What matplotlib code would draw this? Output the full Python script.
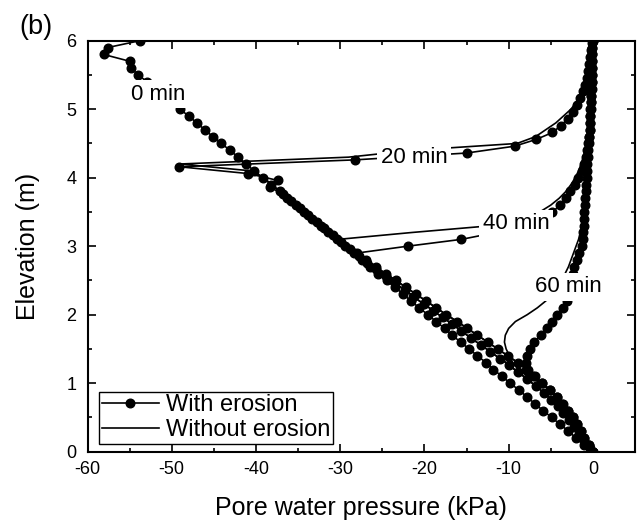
import matplotlib
matplotlib.use("Agg")
import matplotlib.pyplot as plt
from matplotlib.lines import Line2D
from matplotlib.ticker import MultipleLocator

plt.rcParams['font.family'] = ['Liberation Sans', 'DejaVu Sans']
plt.rcParams['axes.unicode_minus'] = False

# node elevations (m)
E = [0.0, 0.1, 0.2, 0.3, 0.4, 0.5, 0.6, 0.7, 0.8, 0.9,
     1.0, 1.1, 1.2, 1.3, 1.4, 1.5, 1.6, 1.7, 1.8, 1.9,
     2.0, 2.1, 2.2, 2.3, 2.4, 2.5, 2.6, 2.7, 2.8, 2.9,
     3.0, 3.1, 3.2, 3.3, 3.4, 3.5, 3.6, 3.7, 3.8, 3.9,
     4.0, 4.1, 4.2, 4.3, 4.4, 4.5, 4.6, 4.7, 4.8, 4.9,
     5.0, 5.1, 5.2, 5.3, 5.4, 5.5, 5.6, 5.7, 5.8, 5.9, 6.0]

# node elevations of the eroded profile at 20 min (m)
E20_ero = [0.0, 0.06, 0.16, 0.26, 0.36, 0.46, 0.56, 0.66, 0.76, 0.86,
           0.96, 1.06, 1.16, 1.26, 1.36, 1.46, 1.56, 1.66, 1.76, 1.86,
           1.96, 2.06, 2.16, 2.26, 2.36, 2.46, 2.56, 2.66, 2.76, 2.86,
           2.96, 3.06, 3.16, 3.26, 3.36, 3.46, 3.56, 3.66, 3.76, 3.86,
           3.96, 4.06, 4.16, 4.26, 4.36, 4.46, 4.56, 4.66, 4.76, 4.86,
           4.96, 5.06, 5.16, 5.26, 5.36, 5.46, 5.56, 5.66, 5.76, 5.86, 5.96]

# pore water pressure (kPa)
u0_ero = [0.0, -1.0, -2.0, -2.9, -3.9, -4.9, -5.9, -6.9, -7.8, -8.8,
          -9.8, -10.8, -11.8, -12.7, -13.7, -14.7, -15.7, -16.7, -17.6, -18.6,
          -19.6, -20.6, -21.6, -22.5, -23.5, -24.5, -25.5, -26.5, -27.4, -28.4,
          -29.4, -30.4, -31.4, -32.3, -33.3, -34.3, -35.3, -36.3, -37.2, -38.2,
          -39.2, -40.2, -41.2, -42.1, -43.1, -44.1, -45.1, -46.1, -47.0, -48.0,
          -49.0, -50.0, -51.0, -51.9, -52.9, -54.0, -54.8, -55.0, -58.1, -57.6, -53.8]

u20_ero = [0.0, -0.4, -1.1, -1.7, -2.2, -2.8, -3.5, -4.2, -5.0, -5.8,
           -6.8, -7.8, -8.9, -9.9, -11.0, -12.2, -13.3, -14.5, -15.6, -16.7,
           -17.8, -19.0, -20.1, -21.3, -22.3, -23.5, -24.6, -25.7, -26.8, -27.8,
           -28.8, -29.9, -30.9, -31.9, -32.8, -33.8, -34.8, -35.8, -36.8, -38.3,
           -37.4, -40.9, -49.1, -28.3, -15.0, -9.3, -6.7, -4.8, -3.8, -3.0,
           -2.4, -1.9, -1.5, -1.2, -0.95, -0.75, -0.6, -0.45, -0.35, -0.25, -0.15]

u20_noero = [0.0, -0.7, -1.3, -1.8, -2.4, -3.1, -3.8, -4.5, -5.3, -6.2,
             -7.2, -8.2, -9.3, -10.3, -11.5, -12.6, -13.8, -14.9, -16.0, -17.1,
             -18.3, -19.4, -20.6, -21.6, -22.8, -23.9, -25.0, -26.1, -27.1, -28.2,
             -29.2, -30.3, -31.3, -32.3, -33.2, -34.2, -35.2, -36.2, -37.1, -38.1,
             -39.1, -40.6, -49.0, -29.0, -21.4, -9.0, -6.8, -5.6, -4.4, -3.5,
             -2.6, -2.0, -1.6, -1.3, -1.0, -0.8, -0.6, -0.45, -0.35, -0.25, -0.15]

u40_ero = [0.0, -0.5, -1.0, -1.4, -1.9, -2.4, -3.0, -3.7, -4.3, -5.1,
           -6.0, -6.9, -7.9, -8.9, -10.1, -11.3, -12.5, -13.7, -14.9, -16.1,
           -17.4, -18.6, -19.8, -21.0, -22.2, -23.4, -24.6, -25.8, -26.9, -28.0,
           -22.0, -15.6, -11.5, -8.2, -6.5, -4.8, -3.9, -3.2, -2.7, -2.1,
           -1.75, -1.35, -1.0, -0.8, -0.65, -0.55, -0.45, -0.4, -0.35, -0.3,
           -0.25, -0.2, -0.2, -0.15, -0.15, -0.1, -0.1, -0.1, -0.05, -0.05, 0.0]

u40_noero = [0.0, -0.5, -1.0, -1.4, -1.9, -2.4, -3.0, -3.7, -4.3, -5.1,
             -6.0, -6.9, -7.9, -8.9, -10.1, -11.3, -12.5, -13.7, -14.9, -16.1,
             -17.4, -18.6, -19.8, -21.0, -22.2, -23.4, -24.6, -25.8, -26.9, -28.0,
             -29.1, -30.2, -21.5, -12.0, -8.0, -6.3, -5.0, -4.0, -3.2, -2.6,
             -2.1, -1.7, -1.4, -1.15, -0.95, -0.8, -0.65, -0.55, -0.45, -0.4,
             -0.35, -0.3, -0.25, -0.2, -0.2, -0.15, -0.15, -0.1, -0.1, -0.05, 0.0]

u60_ero = [0.0, -0.5, -1.0, -1.4, -1.9, -2.4, -3.0, -3.6, -4.3, -5.1,
           -6.1, -7.1, -7.7, -7.9, -7.85, -7.5, -7.0, -6.2, -5.5, -4.9,
           -4.3, -3.6, -3.1, -2.95, -2.8, -2.6, -2.4, -2.2, -1.9, -1.6,
           -1.3, -1.2, -1.15, -1.1, -1.05, -1.0, -0.95, -0.9, -0.85, -0.8,
           -0.75, -0.7, -0.65, -0.6, -0.55, -0.5, -0.45, -0.4, -0.35, -0.3,
           -0.3, -0.25, -0.2, -0.2, -0.15, -0.15, -0.1, -0.1, -0.05, -0.05, 0.0]

u60_noero = [0.0, -0.5, -1.0, -1.4, -1.9, -2.4, -3.0, -3.6, -4.3, -5.1,
             -6.2, -7.6, -8.8, -9.5, -9.9, -10.3, -10.5, -10.4, -10.0, -9.2,
             -7.8, -6.6, -5.6, -4.8, -4.3, -3.8, -3.3, -2.9, -2.6, -2.3,
             -2.0, -1.7, -1.5, -1.3, -1.2, -1.1, -1.0, -0.95, -0.9, -0.85,
             -0.8, -0.75, -0.7, -0.65, -0.6, -0.55, -0.5, -0.45, -0.4, -0.35,
             -0.3, -0.3, -0.25, -0.2, -0.2, -0.15, -0.15, -0.1, -0.1, -0.05, 0.0]

time_labels = ["0 min", "20 min", "40 min", "60 min"]
label_pos = [(-51.6, 5.22), (-21.2, 4.30), (-9.1, 3.33), (-2.9, 2.41)]
legend_labels = ["With erosion", "Without erosion"]

W, H = 641, 520
fig = plt.figure(figsize=(W / 100, H / 100), dpi=100)
ax = fig.add_axes([87.5 / W, (H - 451.7) / H, (635 - 87.5) / W, (451.7 - 40.7) / H])

ms = 6.2
lw = 1.2
ero_kw = dict(color='black', marker='o', markersize=ms, linewidth=lw, zorder=3)
no_kw = dict(color='black', linewidth=lw, zorder=2)

ax.plot(u0_ero, E, **ero_kw)
ax.plot(u20_ero, E20_ero, **ero_kw)
ax.plot(u40_ero, E, **ero_kw)
ax.plot(u60_ero, E, **ero_kw)
ax.plot(u20_noero, E, **no_kw)
ax.plot(u40_noero, E, **no_kw)
ax.plot(u60_noero, E, **no_kw)

for lab, (xv, yv) in zip(time_labels, label_pos):
    ax.text(xv, yv, lab, fontsize=16, ha='center', va='center', zorder=6,
            bbox=dict(facecolor='white', edgecolor='none', pad=2.5))

ax.set_xlim(-60, 5)
ax.set_ylim(0, 6)
ax.xaxis.set_major_locator(MultipleLocator(10))
ax.xaxis.set_minor_locator(MultipleLocator(5))
ax.yaxis.set_major_locator(MultipleLocator(1))
ax.yaxis.set_minor_locator(MultipleLocator(0.5))
ax.tick_params(which='both', direction='in', top=True, right=True, width=1.2)
ax.tick_params(which='major', length=6, labelsize=13, pad=7)
ax.tick_params(which='minor', length=3)
ax.tick_params(axis='y', which='major', pad=8)
for sp in ax.spines.values():
    sp.set_linewidth(1.5)

ax.set_xlabel("Pore water pressure (kPa)", fontsize=18, labelpad=13)
ax.set_ylabel("Elevation (m)", fontsize=18, labelpad=19)

handles = [Line2D([], [], color='black', marker='o', markersize=ms, linewidth=lw),
           Line2D([], [], color='black', linewidth=lw)]
leg = ax.legend(handles, legend_labels, loc='lower left',
                bbox_to_anchor=(11.5 / 547.5, 7.7 / 411), borderaxespad=0,
                fontsize=17, handlelength=2.4, handletextpad=0.3,
                labelspacing=0.12, borderpad=0.12, fancybox=False, framealpha=1)
leg.get_frame().set_edgecolor('black')
leg.get_frame().set_linewidth(1.0)

fig.text(36 / W, 1 - 27 / H, "(b)", fontsize=19.5, ha='center', va='center')

fig.savefig("out.png", dpi=100)
